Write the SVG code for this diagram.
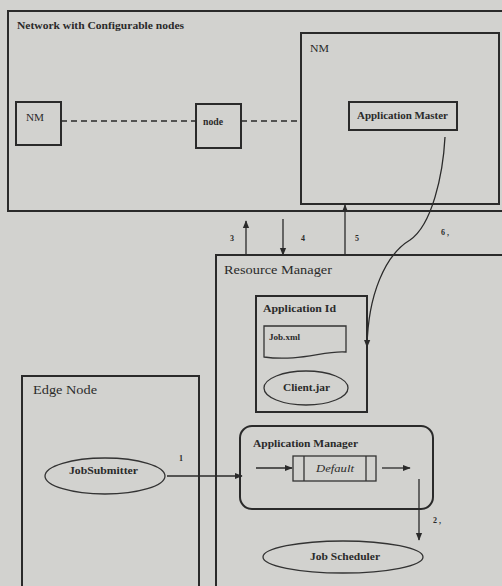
<svg xmlns="http://www.w3.org/2000/svg" width="502" height="586" viewBox="0 0 502 586">
<style>
.b{fill:none;stroke:#2a2a2a;stroke-width:2}
.t{fill:none;stroke:#333;stroke-width:1.3}
.l{stroke:#2a2a2a;stroke-width:1.3;fill:none}
.tx{font-family:"Liberation Serif",serif;fill:#2a2a2a}
.bd{font-weight:bold}
</style>
<defs>
<marker id="a" viewBox="0 0 10 10" refX="9" refY="5" markerWidth="6" markerHeight="6" orient="auto-start-reverse"><path d="M0,1 L10,5 L0,9 z" fill="#2a2a2a"/></marker>
</defs>
<rect width="502" height="586" fill="#d2d2cf"/>
<g id="network">
<rect class="b" x="8" y="11" width="520" height="200"/>
<text class="tx bd" x="17" y="29" font-size="10" textLength="167" lengthAdjust="spacingAndGlyphs">Network with Configurable nodes</text>
</g>
<g id="nm1">
<rect class="b" x="16" y="102" width="45" height="43"/>
<text class="tx" x="26" y="121" font-size="10" textLength="18" lengthAdjust="spacingAndGlyphs">NM</text>
</g>
<g id="node">
<rect class="b" x="196" y="104" width="45" height="44"/>
<text class="tx bd" x="203" y="125" font-size="9.5" textLength="20" lengthAdjust="spacingAndGlyphs">node</text>
</g>
<g id="nm2">
<rect class="b" x="301" y="33" width="198" height="171"/>
<text class="tx" x="310" y="52" font-size="10" textLength="19" lengthAdjust="spacingAndGlyphs">NM</text>
</g>
<g id="appmaster">
<rect class="b" x="349" y="102" width="108" height="28"/>
<text class="tx bd" x="357" y="119" font-size="9.5" textLength="91" lengthAdjust="spacingAndGlyphs">Application Master</text>
</g>
<g id="rm">
<rect class="b" x="216" y="255" width="400" height="400"/>
<text class="tx" x="224" y="274" font-size="12" textLength="108" lengthAdjust="spacingAndGlyphs">Resource Manager</text>
</g>
<g id="appid">
<rect class="b" x="256" y="296" width="111" height="116"/>
<text class="tx bd" x="263" y="312" font-size="11" textLength="73" lengthAdjust="spacingAndGlyphs">Application Id</text>
</g>
<g id="jobxml">
<path class="t" d="M264,326 H346 V352 C325,350 300,362 264,357 Z"/>
<text class="tx bd" x="269" y="340" font-size="8" textLength="31" lengthAdjust="spacingAndGlyphs">Job.xml</text>
</g>
<g id="clientjar">
<ellipse class="t" cx="306" cy="388" rx="42" ry="17"/>
<text class="tx bd" x="283" y="391" font-size="10.5" textLength="47" lengthAdjust="spacingAndGlyphs">Client.jar</text>
</g>
<g id="edgenode">
<rect class="b" x="22" y="376" width="177" height="300"/>
<text class="tx" x="33" y="394" font-size="11.5" textLength="64" lengthAdjust="spacingAndGlyphs">Edge Node</text>
</g>
<g id="jobsubmitter">
<ellipse class="t" cx="105" cy="476" rx="60" ry="18"/>
<text class="tx bd" x="69" y="474" font-size="10" textLength="69" lengthAdjust="spacingAndGlyphs">JobSubmitter</text>
</g>
<g id="appmanager">
<rect class="b" x="240" y="426" width="193" height="83" rx="12"/>
<text class="tx bd" x="253" y="447" font-size="10.5" textLength="105" lengthAdjust="spacingAndGlyphs">Application Manager</text>
</g>
<g id="default">
<rect class="t" x="293" y="456" width="83" height="25"/>
<line class="t" x1="304" y1="456" x2="304" y2="481"/>
<line class="t" x1="366" y1="456" x2="366" y2="481"/>
<text class="tx" x="316" y="472" font-size="11" font-style="italic" textLength="38" lengthAdjust="spacingAndGlyphs">Default</text>
</g>
<g id="jobscheduler">
<ellipse class="t" cx="343" cy="557" rx="80" ry="16"/>
<text class="tx bd" x="310" y="560" font-size="10.5" textLength="70" lengthAdjust="spacingAndGlyphs">Job Scheduler</text>
</g>
<g id="connectors">
<line class="l" x1="61" y1="121" x2="196" y2="121" stroke-dasharray="6,4"/>
<line class="l" x1="241" y1="121" x2="301" y2="121" stroke-dasharray="6,4"/>
<line class="l" x1="246" y1="255" x2="246" y2="221" marker-end="url(#a)"/>
<line class="l" x1="283" y1="219" x2="283" y2="255" marker-end="url(#a)"/>
<line class="l" x1="345" y1="255" x2="345" y2="205" marker-end="url(#a)"/>
<path class="l" d="M445,137 C443,175 432,225 410,240 C385,255 368,295 367,347" marker-end="url(#a)"/>
<line class="l" x1="167" y1="476" x2="242" y2="476" marker-end="url(#a)"/>
<line class="l" x1="256" y1="468" x2="292" y2="468" marker-end="url(#a)"/>
<line class="l" x1="382" y1="468" x2="410" y2="468" marker-end="url(#a)"/>
<line class="l" x1="419" y1="479" x2="419" y2="540" marker-end="url(#a)"/>
<text class="tx bd" x="230" y="241" font-size="8">3</text>
<text class="tx bd" x="301" y="241" font-size="8">4</text>
<text class="tx bd" x="355" y="241" font-size="8">5</text>
<text class="tx bd" x="441" y="235" font-size="8">6 ,</text>
<text class="tx bd" x="179" y="461" font-size="8">1</text>
<text class="tx bd" x="433" y="523" font-size="8">2  ,</text>
</g>
</svg>
